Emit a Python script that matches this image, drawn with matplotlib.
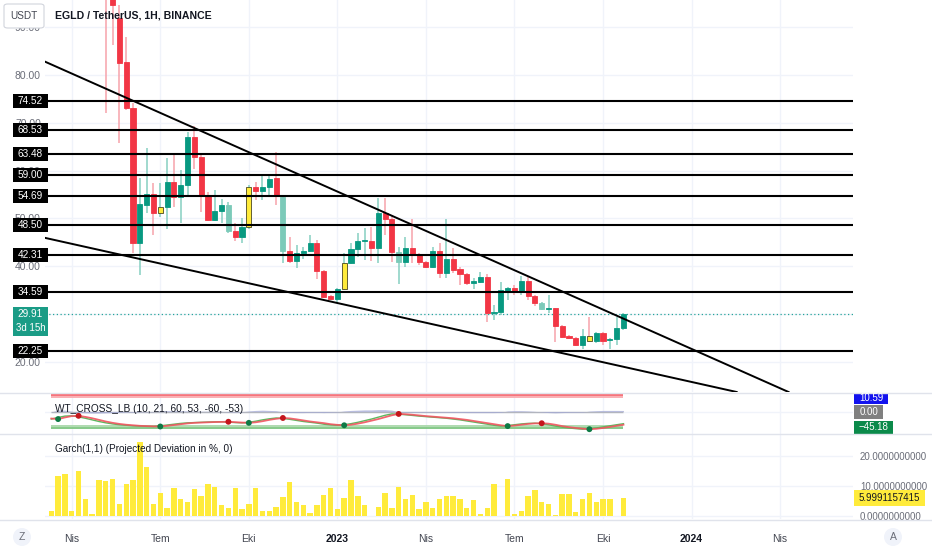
import numpy as np
import pandas as pd
import matplotlib
matplotlib.use('Agg')
import matplotlib.pyplot as plt
import matplotlib.dates as mdates
import matplotlib.transforms as mtrans
from matplotlib.patches import Rectangle, FancyBboxPatch, Ellipse
from matplotlib.lines import Line2D
from matplotlib import font_manager

avail = {f.name for f in font_manager.fontManager.ttflist}
FAM = [f for f in ['Liberation Sans Narrow', 'DejaVu Sans Condensed', 'Liberation Sans', 'DejaVu Sans'] if f in avail] or ['DejaVu Sans']
plt.rcParams['font.family'] = FAM

# ---------------- data ----------------
dates = pd.date_range('2022-03-14', periods=85, freq='7D')

opens = [140, 152, 180, 190, 170, 155, 140, 120, 110, 100,
         91.9, 82.7, 73.1, 44.8, 52.8, 55.1, 51.1, 52.4, 57.6, 54.5,
         57.0, 67.0, 62.8, 54.7, 49.6, 51.5, 52.8, 47.3, 46.1, 48.2,
         56.5, 55.7, 56.5, 58.4, 54.5, 43.1, 41.0, 42.7, 43.1, 44.8,
         39.0, 33.7, 33.1, 35.2, 40.6, 43.6, 45.2, 45.3, 43.8, 51.1,
         49.8, 42.9, 40.8, 43.8, 42.5, 40.8, 39.8, 43.1, 38.5, 41.5,
         39.4, 38.3, 36.4, 36.7, 37.7, 30.2, 30.4, 34.8, 35.4, 34.6,
         36.9, 33.7, 32.3, 31.0, 31.2, 27.4, 25.3, 24.9, 23.5, 25.3,
         24.3, 26.0, 24.5, 24.7, 27.0]
highs = [160, 185, 215, 200, 178, 160, 145, 128, 116, 102,
         94.7, 88.0, 74.1, 58.4, 64.7, 57.4, 57.4, 62.6, 63.3, 60.1,
         68.1, 69.3, 63.5, 55.5, 55.9, 54.0, 53.5, 49.0, 50.1, 57.0,
         57.6, 59.3, 59.1, 63.9, 54.7, 46.1, 44.4, 44.0, 46.5, 45.4,
         39.2, 34.0, 35.4, 42.7, 44.8, 46.9, 48.0, 48.2, 54.2, 54.2,
         50.7, 44.0, 46.1, 49.8, 42.7, 41.1, 44.0, 44.8, 49.8, 43.8,
         39.8, 38.5, 37.5, 38.7, 38.3, 31.8, 36.7, 35.6, 36.0, 37.9,
         37.7, 33.9, 32.5, 33.9, 31.2, 27.6, 25.6, 25.1, 26.8, 29.3,
         26.2, 26.2, 24.9, 29.3, 30.2]
lows = [135, 150, 175, 165, 150, 135, 115, 108, 72.0, 86.3,
        65.8, 72.7, 42.7, 38.1, 51.1, 46.5, 50.3, 47.8, 52.4, 49.0,
        54.5, 60.3, 51.3, 49.4, 49.4, 49.0, 47.0, 45.2, 44.8, 47.8,
        53.8, 53.8, 54.9, 52.8, 40.6, 40.6, 39.6, 41.5, 42.9, 37.3,
        33.3, 32.9, 32.5, 35.0, 40.4, 41.9, 41.3, 41.0, 40.6, 46.5,
        40.8, 36.2, 39.8, 40.6, 40.2, 39.6, 39.6, 37.5, 37.5, 38.5,
        36.0, 36.0, 35.2, 36.4, 28.3, 28.7, 29.7, 32.9, 33.9, 33.9,
        32.9, 31.6, 30.8, 30.2, 24.1, 24.9, 24.7, 23.3, 22.6, 24.1,
        23.9, 23.5, 22.6, 23.5, 26.6]
closes = [152, 180, 190, 170, 155, 140, 120, 110, 100, 94.7,
          82.5, 73.1, 44.8, 53.0, 55.1, 51.1, 52.4, 57.6, 54.5, 57.0,
          67.0, 62.8, 54.7, 49.6, 51.5, 52.8, 47.3, 46.1, 48.2, 56.5,
          55.7, 56.5, 58.2, 54.7, 43.1, 41.0, 42.7, 43.1, 44.8, 39.0,
          33.5, 33.1, 35.2, 40.6, 43.6, 45.2, 45.4, 43.8, 51.1, 49.8,
          42.9, 40.8, 43.8, 42.5, 40.8, 39.8, 43.1, 38.5, 41.5, 39.2,
          38.3, 36.4, 36.9, 37.7, 30.2, 30.4, 35.0, 35.4, 34.6, 36.9,
          33.7, 32.3, 31.0, 31.2, 27.4, 25.2, 24.9, 23.5, 25.3, 24.3,
          26.0, 24.3, 24.7, 27.0, 29.91]
# g = up, r = down, y = highlighted, t = faded
bar_state = ("gggrrrrrrr" "rrrggrygrg" "grrrggtrgy" "rggrtrgggr" "rrgygggrgr"
             "rtgrrrgrgr" "rrggrgggrg" "rrtgrrrrgy" "grggg")

levels = [74.52, 68.53, 63.48, 59.00, 54.69, 48.50, 42.31, 34.59, 22.25]
upper_trend = [('2022-03-10 14:00', 82.52), ('2023-11-09', 27.44)]
lower_trend = [('2022-03-10 14:00', 45.76), ('2023-09-21 19:00', 20.32)]
price_ticks = [20, 30, 40, 50, 60, 70, 80, 90]
hidden_price_ticks = [30]          # covered by the last-price badge in the reference
countdown = '3d 15h'

wt1 = [-28, -22, -17, -16, -20, -25, -31, -37, -42, -46,
       -49, -51, -53, -54, -55, -55.5, -53, -50, -47, -44,
       -42, -41, -40, -39, -38.5, -38, -39.5, -41, -42, -40,
       -36, -31, -27, -24, -25.5, -29, -33, -37, -40, -43,
       -47, -49.5, -51, -49, -45, -40, -34, -28, -21, -14,
       -9, -10, -12, -14.5, -17, -19, -21, -23, -25, -28,
       -31, -35, -39, -43, -47, -51, -54, -52, -49, -46,
       -44, -43.5, -45, -49, -54, -58, -61, -63.5, -65.5, -64,
       -61, -57, -53, -49, -45.18]
wt2 = [-26, -28, -22, -17, -16, -20, -25, -31, -37, -42,
       -46, -49, -51, -53, -54, -55, -55.5, -53, -50, -47,
       -44, -42, -41, -40, -39, -38.5, -38, -39.5, -41, -42,
       -40, -36, -31, -27, -24, -25.5, -29, -33, -37, -40,
       -43, -47, -49.5, -51, -49, -45, -40, -34, -28, -21,
       -14, -9, -10, -12, -14.5, -17, -19, -21, -23, -25,
       -28, -31, -35, -39, -43, -47, -51, -54, -52, -49,
       -46, -44, -43.5, -45, -49, -54, -58, -61, -63.5, -65.5,
       -64, -61, -57, -53, -49]
cross_idx = [1, 4, 16, 26, 29, 34, 43, 51, 67, 72, 79]
cross_dir = ['up', 'dn', 'up', 'dn', 'up', 'dn', 'up', 'dn', 'up', 'dn', 'up']
wt_levels = [60, 53, -53, -60]
wt_last_labels = ['10.59', '0.00', '\u221245.18']

garch = [1.7, 13.3, 14.0, 1.8, 15.1, 5.6, 0.7, 12.0, 11.8, 12.3,
         4.1, 10.7, 12.0, 24.6, 16.4, 4.1, 7.8, 2.8, 9.4, 5.7,
         4.8, 9.0, 6.8, 10.8, 9.7, 3.8, 2.6, 9.4, 2.3, 4.1,
         9.2, 1.8, 1.6, 3.0, 6.4, 11.2, 4.8, 3.8, 1.1, 3.8,
         7.0, 9.4, 2.2, 6.0, 12.0, 6.6, 3.6, 0.1, 3.0, 7.8,
         2.6, 9.7, 5.6, 7.0, 2.3, 4.6, 2.6, 5.6, 6.7, 6.8,
         5.6, 2.6, 5.3, 0.8, 2.6, 10.6, 0.1, 12.3, 0.8, 1.8,
         6.7, 8.6, 4.8, 4.0, 0.2, 7.3, 7.3, 1.3, 5.6, 7.6,
         4.8, 5.6, 5.7, 0.1, 5.9991157415]
garch_ticks = [0, 10, 20]

tick_dates = ['2022-04-04', '2022-07-04', '2022-10-03', '2023-01-02', '2023-04-03',
              '2023-07-03', '2023-10-02', '2024-01-01', '2024-04-01']
tick_labels = ['Nis', 'Tem', 'Eki', '2023', 'Nis', 'Tem', 'Eki', '2024', 'Nis']

# ---------------- layout ----------------
W, H = 932, 550
fig = plt.figure(figsize=(W / 100, H / 100), dpi=100)
fig.patch.set_facecolor('white')


def fx(px):
    return px / W


def fy(py):
    return 1 - py / H


L, R = 45, 853
ax = fig.add_axes([fx(L), fy(392), fx(R) - fx(L), 392 / H])
axw = fig.add_axes([fx(L), fy(434), fx(R) - fx(L), (434 - 393) / H])
axg = fig.add_axes([fx(L), fy(519), fx(R) - fx(L), (519 - 435) / H])

x = mdates.date2num(dates)
week = 7.0
xl, xr = x[0] - 0.925 * week, x[0] + 117.7 * week
tx = mdates.date2num(pd.to_datetime(tick_dates))

GRID = '#f0f3fa'
for a in (ax, axw, axg):
    a.set_xlim(xl, xr)
    for s in a.spines.values():
        s.set_visible(False)
    a.set_xticks(tx)
    a.tick_params(length=0)
    a.grid(axis='x', color=GRID, lw=1)
    a.set_axisbelow(True)
    a.set_facecolor('none')
ax.set_xticklabels([])
axw.set_xticklabels([])

# ---------------- main price panel ----------------
ylo, yhi = 13.62, 95.71
ax.set_ylim(ylo, yhi)
ax.set_yticks(price_ticks)
ax.set_yticklabels(['' if v in hidden_price_ticks else f'{v:.2f}' for v in price_ticks])
ax.tick_params(axis='y', labelsize=7.5, labelcolor='#6a6d78', pad=3)
ax.grid(axis='y', color=GRID, lw=1)

body_map = {'g': '#089981', 'r': '#f23645', 'y': '#ffeb3b', 't': '#7ccab9'}
o = np.array(opens); c = np.array(closes); hi = np.array(highs); lo = np.array(lows)
body_c, edge_c, wick_c = [], [], []
for i, s in enumerate(bar_state):
    body_c.append(body_map[s])
    edge_c.append('#4a4720' if s == 'y' else body_map[s])
    up = c[i] >= o[i]
    if s == 'r' or (s == 'y' and not up):
        wick_c.append('#f7a3ab')
    else:
        wick_c.append('#86cfc1')
bot = np.minimum(o, c)
hgt = np.maximum(np.abs(c - o), 0.25)
ax.vlines(x, lo, hi, colors=wick_c, lw=1.1, zorder=2)
ax.bar(x, hgt, bottom=bot, width=5.1 / 6.81 * week, color=body_c, edgecolor=edge_c,
       linewidth=0.6, zorder=3)

for lv in levels:
    ax.axhline(lv, color='black', lw=1.5, zorder=4)
for (d1, p1), (d2, p2) in (upper_trend, lower_trend):
    ax.axline((mdates.date2num(pd.Timestamp(d1)), p1), (mdates.date2num(pd.Timestamp(d2)), p2),
              color='black', lw=1.4, zorder=4)
ax.axhline(closes[-1], color='#26a69a', lw=0.9, ls=(0, (1, 2)), zorder=1)

# left labels
dpp = (yhi - ylo) / 392.0  # price per pixel
trans = mtrans.blended_transform_factory(fig.transFigure, ax.transData)
for lv in levels:
    ax.add_patch(Rectangle((fx(13), lv - 7 * dpp), fx(48) - fx(13), 14 * dpp, transform=trans,
                           facecolor='black', edgecolor='none', clip_on=False, zorder=10))
    ax.text(fx(30.5), lv, f'{lv:.2f}', transform=trans, ha='center', va='center',
            color='white', fontsize=7.2, zorder=11, clip_on=False)
last = closes[-1]
ax.add_patch(Rectangle((fx(13), last - 21.5 * dpp), fx(48) - fx(13), 29 * dpp, transform=trans,
                       facecolor='#1a9c86', edgecolor='none', clip_on=False, zorder=10))
ax.text(fx(30.5), last, f'{last:.2f}', transform=trans, ha='center', va='center',
        color='white', fontsize=7.2, zorder=11, clip_on=False)
ax.text(fx(30.5), last - 13.5 * dpp, countdown, transform=trans, ha='center', va='center',
        color='white', fontsize=7, zorder=11, clip_on=False)

# ---------------- WT panel ----------------
axw.set_ylim(-83.3, 68.5)
axw.set_yticks([0])
axw.set_yticklabels([])
axw.grid(axis='y', color=GRID, lw=1)
w1 = np.array(wt1); w2 = np.array(wt2)
axw.hlines(wt_levels, x[0], x[-1], colors=['#f7666e', '#f9a9ae', '#a8d8a9', '#7cc57f'], lw=1.3, zorder=2)
axw.hlines([0], x[0], x[-1], colors='#b2b5be', lw=1, zorder=2)
axw.fill_between(x, w1 - w2, 0, color='#a3a9d6', alpha=0.7, lw=0, zorder=2)
axw.plot(x, w1, color='#5cb85f', lw=1.0, zorder=3)
axw.plot(x, w2, color='#f0555f', lw=1.3, alpha=0.9, zorder=3)
ci = np.array(cross_idx)
axw.scatter(x[ci], w2[ci], s=18, zorder=5,
            c=['#0e7a45' if d == 'up' else '#c4161c' for d in cross_dir], linewidths=0)

# ---------------- Garch panel ----------------
axg.set_ylim(-1, 27)
axg.bar(x, garch, width=5.4 / 6.81 * week, color='#ffeb3b', edgecolor='none', zorder=3)
axg.yaxis.tick_right()
axg.set_yticks(garch_ticks)
axg.set_yticklabels([f'{v:.10f}' for v in garch_ticks])
axg.tick_params(axis='y', labelsize=7, labelcolor='#6a6d78', pad=5)
axg.grid(axis='y', color=GRID, lw=1)
axg.set_xticklabels(tick_labels)
axg.tick_params(axis='x', labelsize=7.5, labelcolor='#434651', pad=11)
for lab in axg.get_xticklabels():
    if lab.get_text() in ('2023', '2024'):
        lab.set_fontweight('bold')
        lab.set_color('#131722')

# ---------------- figure-level decorations ----------------
for yy in (392.5, 434.0, 520.0):
    fig.add_artist(Line2D([0, 1], [fy(yy), fy(yy)], color='#e0e3eb', lw=1))

fig.add_artist(FancyBboxPatch((fx(4), fy(28)), fx(44) - fx(4), 24 / H,
                              boxstyle='round,pad=0,rounding_size=0.004',
                              facecolor='white', edgecolor='#d1d4dc', lw=0.8))
fig.text(fx(24), fy(16), 'USDT', ha='center', va='center', fontsize=7.2, color='#434651')
fig.text(fx(55), fy(15.5), 'EGLD / TetherUS, 1H, BINANCE', ha='left', va='center',
         fontsize=7.6, fontweight='bold', color='#131722')
fig.text(fx(55), fy(408.5), 'WT_CROSS_LB (10, 21, 60, 53, -60, -53)', ha='left', va='center',
         fontsize=7.3, color='#131722')
fig.text(fx(55), fy(449), 'Garch(1,1) (Projected Deviation in %, 0)', ha='left', va='center',
         fontsize=7.2, color='#131722')


def fig_box(x0, y0, x1, y1, fc, text, tc):
    fig.add_artist(Rectangle((fx(x0), fy(y1)), fx(x1) - fx(x0), (y1 - y0) / H,
                             facecolor=fc, edgecolor='none'))
    fig.text(fx((x0 + x1) / 2), fy((y0 + y1) / 2), text, ha='center', va='center',
             fontsize=7, color=tc)


fig_box(854, 392.7, 888, 403.5, '#1212ee', wt_last_labels[0], 'white')
fig_box(854, 405, 883, 419, '#808080', wt_last_labels[1], 'white')
fig_box(854, 420.7, 893, 433.5, '#0b8a4a', wt_last_labels[2], 'white')
fig_box(854, 490, 925, 506, '#ffeb3b', f'{garch[-1]:.10f}', '#131722')

for cx, t in ((22, 'Z'), (893, 'A')):
    fig.add_artist(Ellipse((fx(cx), fy(537)), 18 / W, 18 / H, facecolor='#f0f3fa', edgecolor='none'))
    fig.text(fx(cx), fy(537), t, ha='center', va='center', fontsize=7.5, color='#6a6d78')

fig.savefig('out.png', dpi=100)
